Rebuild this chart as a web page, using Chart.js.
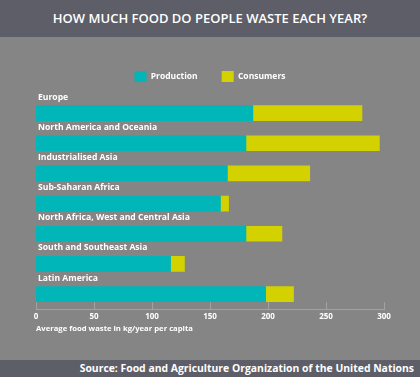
<!DOCTYPE html>
<html>
<head>
<meta charset="utf-8">
<script src="https://cdn.jsdelivr.net/npm/chart.js@4"></script>
<style>
  html, body { margin: 0; padding: 0; }
  body { width: 420px; height: 377px; background: #858585; font-family: "Open Sans", sans-serif; overflow: hidden; }
  #head { height: 37px; line-height: 36px; background: #5d5e67; color: #fff; text-align: center; font-size: 13px; font-weight: 600; }
  #wrap { position: relative; width: 420px; height: 323px; }
  #foot { height: 17px; line-height: 17px; background: #5d5e67; color: #fff; text-align: right; padding-right: 6px; font-size: 10.4px; font-weight: 700; }
</style>
</head>
<body>
<div id="head">HOW MUCH FOOD DO PEOPLE WASTE EACH YEAR?</div>
<div id="wrap"><canvas id="wasteChart"></canvas></div>
<div id="foot">Source: Food and Agriculture Organization of the United Nations</div>
<script>
const regions = ['Europe', 'North America and Oceania', 'Industrialised Asia', 'Sub-Saharan Africa',
    'North Africa, West and Central Asia', 'South and Southeast Asia', 'Latin America'];
const production = [187, 181, 165, 159, 181, 116, 198];
const consumers = [94, 115, 71, 7, 31, 12, 24];
const xTicks = [0, 50, 100, 150, 200, 250, 300];

// small tick marks pointing up from the x axis
const upTicks = {
    id: 'upTicks',
    afterDraw(chart) {
        const x = chart.scales.x;
        const ctx = chart.ctx;
        ctx.save();
        ctx.strokeStyle = '#a3a3a3';
        ctx.lineWidth = 1;
        xTicks.forEach(v => {
            const px = Math.round(x.getPixelForValue(v)) + 0.5;
            ctx.beginPath();
            ctx.moveTo(px, x.top - 7);
            ctx.lineTo(px, x.top + 1);
            ctx.stroke();
        });
        ctx.restore();
    }
};

// a bit more room under the legend
const legendGap = {
    id: 'legendGap',
    afterInit(chart) {
        const legend = chart.legend;
        const fit = legend.fit;
        legend.fit = function () {
            fit.call(this);
            this.height += 6;
        };
    }
};

const ctx = document.getElementById('wasteChart').getContext('2d');
new Chart(ctx, {
    type: 'bar',
    data: {
        labels: regions,
        datasets: [{
            label: 'Production',
            data: production,
            backgroundColor: '#00b6b8',
            barThickness: 15
        }, {
            label: 'Consumers',
            data: consumers,
            backgroundColor: '#d3d200',
            barThickness: 15
        }]
    },
    options: {
        indexAxis: 'y',
        responsive: true,
        maintainAspectRatio: false,
        animation: false,
        layout: { padding: { left: 36, right: 36, top: 10, bottom: 27 } },
        plugins: {
            legend: {
                labels: {
                    color: '#fff',
                    boxWidth: 12,
                    boxHeight: 11,
                    padding: 24,
                    font: { family: 'Open Sans', size: 8.5, weight: 'bold' }
                }
            },
            tooltip: { enabled: false }
        },
        scales: {
            x: {
                stacked: true,
                min: 0,
                max: 300,
                afterBuildTicks: s => { s.ticks = xTicks.map(v => ({ value: v })); },
                grid: { display: false, drawTicks: false },
                border: { display: true, color: '#a3a3a3', width: 1 },
                ticks: { color: '#fff', padding: 3, font: { family: 'Open Sans', size: 8, weight: 'bold' } },
                title: {
                    display: true,
                    text: 'Average food waste in kg/year per capita',
                    align: 'start',
                    color: '#fff',
                    padding: { top: -1, bottom: 0 },
                    font: { family: 'Open Sans', size: 7.7, weight: 'bold' }
                }
            },
            y: {
                stacked: true,
                afterFit: s => { s.width = 0; },
                grid: { display: false, drawTicks: false },
                border: { display: false },
                ticks: {
                    mirror: true,
                    padding: 2,
                    labelOffset: -16,
                    color: '#fff',
                    font: { family: 'Open Sans', size: 8.6, weight: 'bold' }
                }
            }
        }
    },
    plugins: [upTicks, legendGap]
});
</script>
</body>
</html>
